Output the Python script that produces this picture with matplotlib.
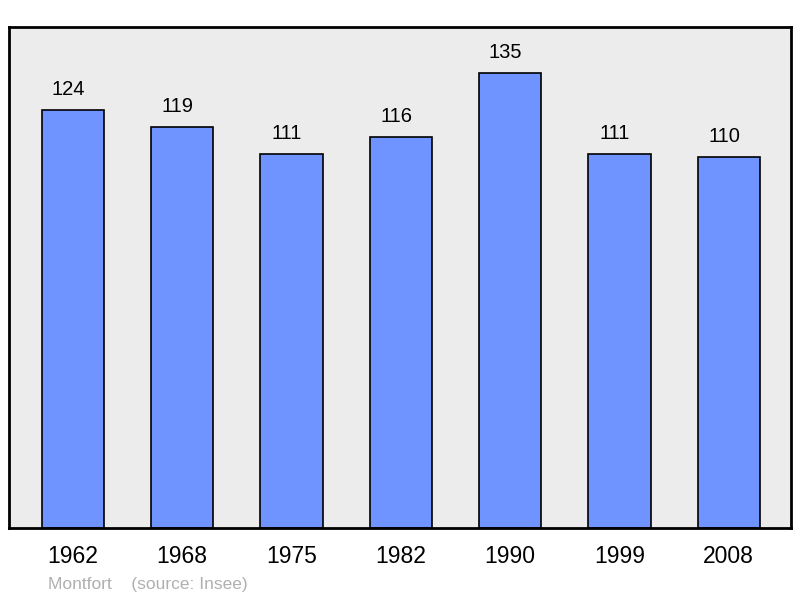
import matplotlib.pyplot as plt

# Données
annees = ["1962", "1968", "1975", "1982", "1990", "1999", "2008"]
population = [124, 119, 111, 116, 135, 111, 110]
commune = "Montfort"
source = "(source: Insee)"

plt.rcParams['font.family'] = ['Liberation Sans', 'DejaVu Sans']

fig = plt.figure(figsize=(8.0, 5.98), dpi=100)
ax = fig.add_axes([9 / 800, 1 - 528 / 598, 782 / 800, 501 / 598])
ax.set_facecolor('#ececec')

x = range(len(annees))
ax.bar(x, population, width=0.57, color='#7094ff', edgecolor='black', linewidth=1.2, zorder=2)

# étiquettes de valeur
for i, v in enumerate(population):
    ax.text(i - 0.04, v + 6.1, str(v), ha='center', va='center', fontsize=14.5)

ax.set_xlim(-0.585, 6.57)
ax.set_ylim(0, 148.7)
ax.set_xticks(list(x))
ax.set_xticklabels(annees, fontsize=16.5)
ax.tick_params(axis='x', length=0, pad=12)
ax.set_yticks([])
for s in ax.spines.values():
    s.set_linewidth(2)

fig.text(48 / 800, 1 - 584 / 598, commune + "    " + source, color='#b0b0b0',
         fontsize=12.5, ha='left', va='center')

fig.savefig('out.png', dpi=100)
